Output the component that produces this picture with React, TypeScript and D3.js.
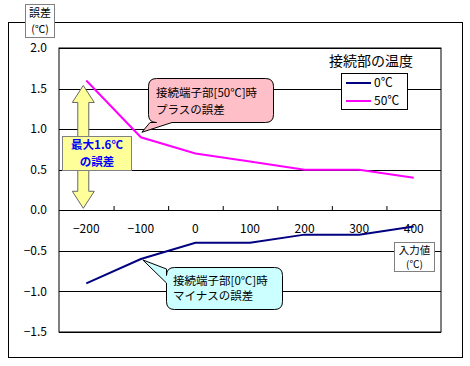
import React from "react";
import * as d3 from "d3";

const categories = ["-200", "-100", "0", "100", "200", "300", "400"];
const series0 = [-0.9, -0.6, -0.4, -0.4, -0.3, -0.3, -0.2];
const series50 = [1.6, 0.9, 0.7, 0.6, 0.5, 0.5, 0.4];
const yTicks = [2.0, 1.5, 1.0, 0.5, 0.0, -0.5, -1.0, -1.5];
const seriesNames = ["0℃", "50℃"];
const seriesColors = ["#000080", "#ff00ff"];

const FONT = "'Noto Sans CJK JP', 'DejaVu Sans', sans-serif";

export default function App() {
  const W = 470, H = 366;
  const left = 59, right = 441, top = 48, bottom = 332;
  const x = d3.scaleBand().domain(categories).range([left, right]).padding(0);
  const y = d3.scaleLinear().domain([-1.5, 2.0]).range([bottom, top]);
  const cx = (c: string) => (x(c) as number) + x.bandwidth() / 2;
  const line = d3.line<number>().x((_, i) => cx(categories[i])).y((d) => y(d));
  const y0 = y(0);
  const fmt = d3.format(".1f");
  const fmtY = (v: number) => (v < 0 ? "\u2212" + fmt(-v) : fmt(v));
  const fmtX = (s: string) => (s.startsWith("-") ? "\u2212" + s.slice(1) : s);

  // yellow double arrow from 1.6 to 0
  const ax = cx(categories[0]) - 3;
  const aTop = y(series50[0]) + 5;
  const aBot = y(0) - 2;
  const hw = 11, sw = 5.5, hl = 17;
  const arrowPath = `M${ax},${aTop} L${ax + hw},${aTop + hl} L${ax + sw},${aTop + hl} L${ax + sw},${aBot - hl} L${ax + hw},${aBot - hl} L${ax},${aBot} L${ax - hw},${aBot - hl} L${ax - sw},${aBot - hl} L${ax - sw},${aTop + hl} L${ax - hw},${aTop + hl} Z`;

  // callouts
  const pinkTip = [cx(categories[1]) + 1, y(series50[1]) - 5];
  const cyanTip = [cx(categories[1]) + 2, y(series0[1]) + 1];

  const roundRectWithTail = (
    x0: number, y0r: number, x1: number, y1: number, r: number,
    tail: { side: "bottom" | "left"; a: number; b: number; tip: number[] }
  ) => {
    let p = `M${x0 + r},${y0r} L${x1 - r},${y0r} Q${x1},${y0r} ${x1},${y0r + r} L${x1},${y1 - r} Q${x1},${y1} ${x1 - r},${y1}`;
    if (tail.side === "bottom") {
      p += ` L${tail.b},${y1} L${tail.tip[0]},${tail.tip[1]} L${tail.a},${y1}`;
      p += ` L${x0 + r},${y1} Q${x0},${y1} ${x0},${y1 - r} L${x0},${y0r + r} Q${x0},${y0r} ${x0 + r},${y0r} Z`;
    } else {
      p += ` L${x0 + r},${y1} Q${x0},${y1} ${x0},${y1 - r} L${x0},${tail.b} L${tail.tip[0]},${tail.tip[1]} L${x0},${tail.a} L${x0},${y0r + r} Q${x0},${y0r} ${x0 + r},${y0r} Z`;
    }
    return p;
  };

  return (
    <svg width={W} height={H} style={{ display: "block", position: "absolute", left: 0, top: 0 }} fontFamily={FONT}>
      <rect x={0} y={0} width={W} height={H} fill="#fff" />
      {/* outer chart border */}
      <rect x={8.5} y={22.5} width={454} height={335} fill="#fff" stroke="#000" strokeWidth={1} />
      {/* plot area */}
      <rect x={left} y={top} width={right - left} height={bottom - top} fill="#fff" stroke="#000" strokeWidth={1} />
      {/* gridlines */}
      {yTicks.map((t) => (
        <line key={"g" + t} x1={left} x2={right} y1={Math.round(y(t)) + 0.5} y2={Math.round(y(t)) + 0.5} stroke="#000" strokeWidth={1} />
      ))}
      {/* y tick labels */}
      {yTicks.map((t) => (
        <text key={"yl" + t} x={47} y={y(t)} dy="0.35em" textAnchor="end" fontSize={12} fill="#000">
          {fmtY(t)}
        </text>
      ))}
      {/* x ticks along zero line */}
      {categories.slice(1).map((c) => (
        <line key={"xt" + c} x1={(x(c) as number) + 0.5} x2={(x(c) as number) + 0.5} y1={Math.round(y0) - 4} y2={Math.round(y0)} stroke="#000" />
      ))}
      {categories.map((c) => (
        <text key={"xl" + c} x={cx(c)} y={y0 + 19} dy="0.35em" textAnchor="middle" fontSize={12} fill="#000">
          {fmtX(c)}
        </text>
      ))}
      {/* series */}
      <path d={line(series50) || ""} fill="none" stroke={seriesColors[1]} strokeWidth={2} />
      <path d={line(series0) || ""} fill="none" stroke={seriesColors[0]} strokeWidth={2} />

      {/* yellow arrow */}
      <path d={arrowPath} fill="#ffff99" stroke="#666" strokeWidth={1} />
      <rect x={62.5} y={136.5} width={69} height={34} fill="#ffff99" stroke="#808080" strokeWidth={1} />
      <text x={97} y={145} dy="0.35em" textAnchor="middle" fontSize={11.5} fontWeight="bold" fill="#0000ff">最大1.6℃</text>
      <text x={97} y={162} dy="0.35em" textAnchor="middle" fontSize={11.5} fontWeight="bold" fill="#0000ff">の誤差</text>

      {/* pink callout */}
      <path
        d={roundRectWithTail(148.5, 78.5, 273.5, 122.5, 8, { side: "bottom", a: 150, b: 172, tip: pinkTip })}
        fill="#ffbfc8" stroke="#000" strokeWidth={1}
      />
      <text x={156} y={93} dy="0.35em" fontSize={11.5} fill="#000">接続端子部[50℃]時</text>
      <text x={156} y={110} dy="0.35em" fontSize={11.5} fill="#000">プラスの誤差</text>

      {/* cyan callout */}
      <path
        d={roundRectWithTail(166.5, 267.5, 282.5, 309.5, 8, { side: "left", a: 269, b: 283, tip: cyanTip })}
        fill="#ccffff" stroke="#000" strokeWidth={1}
      />
      <text x={173} y={281} dy="0.35em" fontSize={11.5} fill="#000">接続端子部[0℃]時</text>
      <text x={173} y={296} dy="0.35em" fontSize={11.5} fill="#000">マイナスの誤差</text>

      {/* legend */}
      <text x={371} y={61} dy="0.35em" textAnchor="middle" fontSize={14} fill="#000">接続部の温度</text>
      <rect x={341.5} y={73.5} width={66} height={36} fill="#fff" stroke="#000" strokeWidth={1} />
      {seriesNames.map((n, i) => (
        <g key={n}>
          <line x1={346} x2={371} y1={83 + i * 18} y2={83 + i * 18} stroke={seriesColors[i]} strokeWidth={2} />
          <text x={374} y={83 + i * 18} dy="0.35em" fontSize={12} fill="#000">{n}</text>
        </g>
      ))}

      {/* y axis title */}
      <rect x={25.5} y={4.5} width={29} height={33} fill="#fff" stroke="#808080" strokeWidth={1} />
      <text x={40} y={13.5} dy="0.35em" textAnchor="middle" fontSize={11} fill="#000">誤差</text>
      <text x={40} y={29} dy="0.35em" textAnchor="middle" fontSize={10.5} fill="#000">(℃)</text>

      {/* x axis title */}
      <rect x={394.5} y={242.5} width={40} height={29} fill="#fff" stroke="#808080" strokeWidth={1} />
      <text x={414.5} y={250} dy="0.35em" textAnchor="middle" fontSize={10.5} fill="#000">入力値</text>
      <text x={414.5} y={264} dy="0.35em" textAnchor="middle" fontSize={10} fill="#000">(℃)</text>
    </svg>
  );
}
